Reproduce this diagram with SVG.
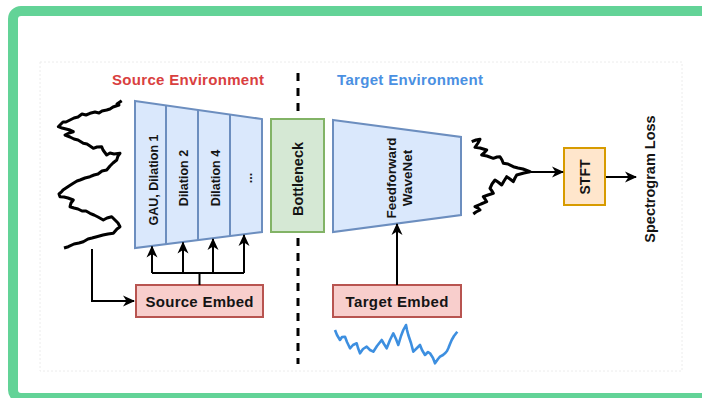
<svg xmlns="http://www.w3.org/2000/svg" width="702" height="398" viewBox="0 0 702 398">
<defs>
<style>
.t{font-family:"Liberation Sans",Arial,sans-serif;font-weight:bold;fill:#141414}
.enc{fill:#dae8fc;stroke:#6c8ebf;stroke-width:2}
.ln{fill:none;stroke:#000;stroke-width:2}
.wave{fill:none;stroke:#000;stroke-width:3;stroke-linejoin:round}
</style>
<marker id="ah" viewBox="0 0 12 12" refX="11" refY="6" markerWidth="12" markerHeight="12" markerUnits="userSpaceOnUse" orient="auto">
<path d="M0,0.5 L12,6 L0,11.5 L3.5,6 Z" fill="#000"/>
</marker>
</defs>
<rect x="0" y="0" width="702" height="398" fill="#fff"/>
<rect x="13" y="11" width="710" height="387" rx="8" fill="none" stroke="#63d397" stroke-width="10"/>
<rect x="40" y="62" width="642" height="309" fill="none" stroke="#ececec" stroke-width="1" stroke-dasharray="2 2"/>

<text class="t" x="188" y="85" font-size="15" style="fill:#d94040" text-anchor="middle" textLength="152">Source Environment</text>
<text class="t" x="410" y="85" font-size="15" style="fill:#4a90e2" text-anchor="middle" textLength="146">Target Environment</text>
<line x1="298" y1="73" x2="298" y2="364" stroke="#000" stroke-width="3" stroke-dasharray="8 7"/>

<g id="encoder">
<path class="enc" d="M135,101 L262,119 L262,232 L135,248 Z"/>
<line x1="166" y1="105.4" x2="166" y2="244.1" stroke="#6c8ebf" stroke-width="2"/>
<line x1="198" y1="109.9" x2="198" y2="240.1" stroke="#6c8ebf" stroke-width="2"/>
<line x1="230" y1="114.5" x2="230" y2="236" stroke="#6c8ebf" stroke-width="2"/>
<text class="t" font-size="12.5" text-anchor="middle" transform="translate(153,180) rotate(-90)" dy="4.5">GAU, Dilation 1</text>
<text class="t" font-size="12.5" text-anchor="middle" transform="translate(183,178) rotate(-90)" dy="4.5">Dilation 2</text>
<text class="t" font-size="12.5" text-anchor="middle" transform="translate(215,178) rotate(-90)" dy="4.5">Dilation 4</text>
<text class="t" font-size="12.5" text-anchor="middle" transform="translate(247,178) rotate(-90)" dy="4.5">...</text>
</g>

<g id="bottleneck">
<rect x="271" y="119" width="53" height="113" fill="#d5e8d4" stroke="#82b366" stroke-width="2"/>
<text class="t" font-size="14.5" text-anchor="middle" transform="translate(297.5,179) rotate(-90)" dy="5">Bottleneck</text>
</g>

<g id="wavenet">
<path class="enc" d="M333,120 L461,137 L461,215 L333,232 Z"/>
<text class="t" font-size="13.5" text-anchor="middle" transform="translate(391,178) rotate(-90)" dy="5">Feedforward</text>
<text class="t" font-size="13.5" text-anchor="middle" transform="translate(407,178) rotate(-90)" dy="5">WaveNet</text>
</g>

<g id="stft">
<rect x="564" y="148" width="41" height="57" fill="#ffe6cc" stroke="#d79b00" stroke-width="2"/>
<text class="t" font-size="14" text-anchor="middle" transform="translate(585,177) rotate(-90)" dy="5">STFT</text>
</g>

<g id="loss">
<text class="t" font-size="14.5" text-anchor="middle" transform="translate(650,179) rotate(-90)" dy="5">Spectrogram Loss</text>
</g>

<g id="source-embed">
<rect x="136" y="285" width="127" height="32" fill="#f8cecc" stroke="#b85450" stroke-width="2"/>
<text class="t" x="199.5" y="306.5" font-size="15" text-anchor="middle" textLength="108">Source Embed</text>
</g>

<g id="target-embed">
<rect x="333" y="285" width="128" height="32" fill="#f8cecc" stroke="#b85450" stroke-width="2"/>
<text class="t" x="397" y="306.5" font-size="15" text-anchor="middle" textLength="103">Target Embed</text>
</g>

<g id="source-wave">
<polyline class="wave" points="121.7,100.7 117,104 119,105 113,107 110,109 106.7,110 102,111 99,113 95,112 90,113.3 86,115 82,114 78,117 74,118 70,120 66,122 63,122 60,125 58.3,126.7 62,128 66,129 70,130 73.3,131.7 69,133 65,135 70,137 74,139 78,140 83.3,143.3 87,144 90,146 93.3,148.3 97,147 101.7,146.7 103,150 106.7,155 110,153 114,154 120,153.3 118,156 116.7,160 113,163 110,166 106.7,170 102,171 98,174 94,175 90,176.7 85,178 80,180 77,181 73.3,183.3 69,186 66,188 63,190 61.7,191.7 59,194 60,196.7 64,197 68,198 73.3,200 71,203 70,206.7 74,208 78,209 82,211 86,211 90,213.3 94,215 98,217 103.3,220 107,218 111.7,216.7 115,220 118,223 120,226.7 117,229 113.3,233.3 108,234 103,235 96.7,236.7 92,238 88,239 83.3,241.7 79,243 74,244 68.3,246.7 64,248"/>
</g>

<g id="target-wave">
<polyline class="wave" points="471.7,141.7 476,140 480,139.3 478,143 475,147.3 480,148 486.7,150 484,153 481.7,155 487,156 493.3,158.3 497,157 500,156.7 502,160 503.3,163.3 508,164 513.3,166.7 518,168 523,169 530,171.7 524,173 516.7,175 515,178 513.3,181.7 510,179 506.7,176.7 504,181 501.7,185 498,182 495,180 492,184 490,188.3 492,191 493.3,193.3 488,195 483.3,196.7 485,199 486.7,201.7 481,204 475,206.7 478,208 480,210 476,212 473.3,214"/>
</g>

<g id="blue-wave">
<polyline fill="none" stroke="#3d8fe0" stroke-width="2.6" stroke-linejoin="round" points="335,330 337,335 340,340 342,337 345,336.7 347,342 350,348.3 353,345 356.7,343.3 358,348 360,353.3 363,349 366.7,346.7 370,350 373.3,351.7 377,346 381.7,340 384,344 386.7,348.3 390,340 393.3,333.3 396,339 398.3,345 401,336 403.3,330 406,325 407,330 408.3,335 411,343 413.3,351.7 417,348 420,345 422,350 425,355 428,352 430,353.3 433,358 435,363.3 438,359 440,356.7 443,355 445,353.3 447,351 448.3,348.3 450,344 451.7,340 454,336 457.3,331.7"/>
</g>

<g id="connectors">
<polyline class="ln" points="92,249 92,301 134,301" marker-end="url(#ah)"/>
<line class="ln" x1="199.5" y1="285" x2="199.5" y2="273"/>
<line class="ln" x1="152" y1="273" x2="244" y2="273"/>
<line class="ln" x1="152" y1="273" x2="152" y2="246.5" marker-end="url(#ah)"/>
<line class="ln" x1="183" y1="273" x2="183" y2="242.5" marker-end="url(#ah)"/>
<line class="ln" x1="213" y1="273" x2="213" y2="239" marker-end="url(#ah)"/>
<line class="ln" x1="244" y1="273" x2="244" y2="235" marker-end="url(#ah)"/>
<line class="ln" x1="397" y1="285" x2="397" y2="224" marker-end="url(#ah)"/>
<line class="ln" x1="531" y1="172" x2="563" y2="172" marker-end="url(#ah)"/>
<line class="ln" x1="606" y1="177" x2="636" y2="177" marker-end="url(#ah)"/>
</g>
</svg>
